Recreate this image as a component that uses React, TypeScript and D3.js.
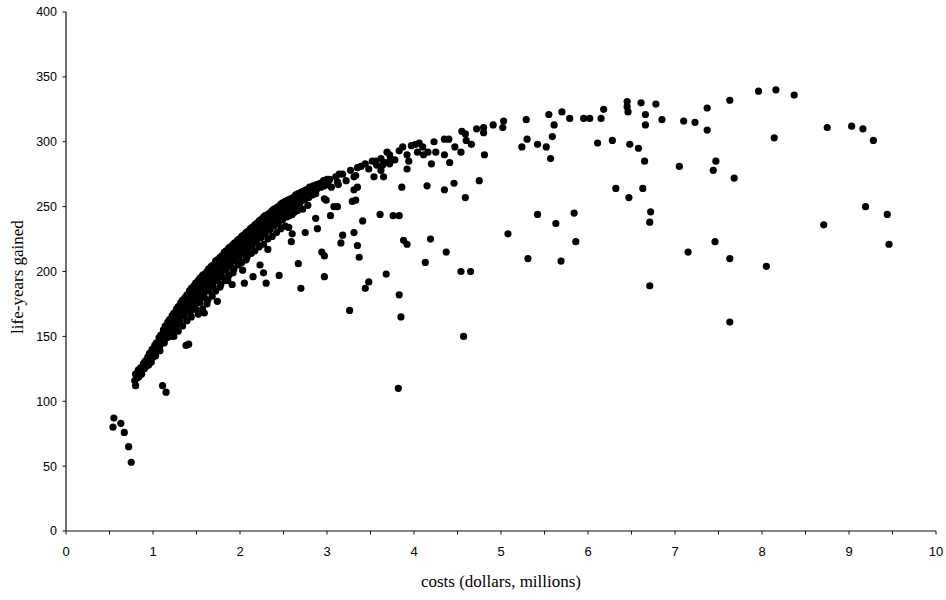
import React from 'react';
import * as d3 from 'd3';

// [cost in $ millions, life-years gained]
const lowCluster: [number, number][] = [
  [0.55, 87], [0.54, 80], [0.63, 83], [0.67, 76], [0.72, 65], [0.75, 53],
  [0.8, 112], [0.82, 118], [1.11, 112], [1.15, 107], [1.38, 143], [1.41, 144],
];

// the dense band up to ~$3M
const band: [number, number][] = [
  [0.8, 121], [0.79, 116], [0.83, 124], [0.84, 119], [0.86, 126], [0.87, 121], [0.89, 129],
  [0.9, 125], [0.91, 131], [0.92, 127], [0.94, 134], [0.95, 128], [0.96, 137], [0.97, 132],
  [0.99, 140], [1.0, 134], [0.98, 130], [1.02, 143], [1.03, 137], [1.04, 145], [1.05, 140],
  [1.03, 135], [1.07, 149], [1.08, 143], [1.09, 151], [1.1, 146], [1.08, 139], [1.12, 155],
  [1.13, 148], [1.14, 158], [1.15, 151], [1.13, 145], [1.17, 161], [1.18, 155], [1.16, 149],
  [1.19, 163], [1.2, 157], [1.21, 150], [1.22, 166], [1.23, 160], [1.21, 153], [1.24, 168],
  [1.25, 162], [1.26, 156], [1.24, 150], [1.27, 171], [1.28, 165], [1.26, 158], [1.29, 173],
  [1.3, 167], [1.31, 161], [1.29, 154], [1.32, 176], [1.33, 169], [1.31, 163], [1.34, 178],
  [1.35, 171], [1.36, 166], [1.34, 158], [1.37, 180], [1.38, 174], [1.36, 168], [1.39, 162],
  [1.39, 182], [1.4, 177], [1.41, 170], [1.42, 185], [1.43, 179], [1.41, 173], [1.44, 165],
  [1.44, 187], [1.45, 181], [1.46, 176], [1.43, 169], [1.47, 189], [1.48, 184], [1.46, 178],
  [1.49, 171], [1.49, 191], [1.5, 186], [1.51, 180], [1.48, 174], [1.52, 167], [1.52, 193],
  [1.53, 188], [1.51, 182], [1.54, 176], [1.54, 195], [1.55, 190], [1.56, 184], [1.53, 178],
  [1.57, 171], [1.57, 197], [1.58, 192], [1.56, 186], [1.59, 180], [1.59, 198], [1.6, 194],
  [1.61, 188], [1.58, 182], [1.62, 175], [1.62, 200], [1.63, 196], [1.61, 190], [1.64, 185],
  [1.63, 178], [1.64, 202], [1.65, 197], [1.66, 192], [1.63, 187], [1.67, 204], [1.68, 199],
  [1.66, 194], [1.69, 189], [1.68, 181], [1.69, 205], [1.7, 201], [1.71, 196], [1.68, 191],
  [1.72, 185], [1.72, 208], [1.73, 203], [1.71, 198], [1.74, 193], [1.74, 209], [1.75, 205],
  [1.76, 200], [1.73, 195], [1.77, 188], [1.77, 211], [1.78, 207], [1.76, 202], [1.79, 196],
  [1.78, 190], [1.79, 212], [1.8, 208], [1.81, 204], [1.78, 199], [1.82, 215], [1.83, 210],
  [1.81, 206], [1.84, 201], [1.83, 193], [1.84, 216], [1.85, 212], [1.86, 207], [1.83, 203],
  [1.87, 197], [1.87, 218], [1.88, 214], [1.86, 209], [1.89, 204], [1.89, 219], [1.9, 215],
  [1.91, 211], [1.88, 206], [1.92, 199], [1.92, 221], [1.93, 217], [1.91, 213], [1.94, 208],
  [1.93, 202], [1.94, 222], [1.95, 218], [1.96, 214], [1.93, 210], [1.97, 224], [1.98, 220],
  [1.96, 216], [1.99, 211], [1.98, 205], [1.99, 225], [2.0, 221], [2.01, 217], [1.98, 213],
  [2.02, 207], [2.02, 227], [2.03, 223], [2.01, 219], [2.04, 214], [2.04, 228], [2.05, 224],
  [2.06, 220], [2.03, 216], [2.07, 209], [2.07, 230], [2.08, 226], [2.06, 222], [2.09, 217],
  [2.08, 211], [2.09, 231], [2.1, 227], [2.11, 223], [2.08, 219], [2.12, 233], [2.13, 229],
  [2.11, 225], [2.14, 220], [2.13, 214], [2.14, 234], [2.15, 230], [2.16, 226], [2.13, 222],
  [2.17, 216], [2.17, 236], [2.18, 232], [2.16, 228], [2.19, 223], [2.19, 237], [2.2, 233],
  [2.21, 229], [2.18, 225], [2.22, 219], [2.22, 239], [2.23, 235], [2.21, 231], [2.24, 226],
  [2.24, 240], [2.25, 236], [2.26, 232], [2.23, 228], [2.27, 221], [2.27, 242], [2.28, 238],
  [2.26, 234], [2.29, 229], [2.29, 243], [2.3, 239], [2.31, 235], [2.28, 231], [2.32, 225],
  [2.32, 244], [2.33, 240], [2.31, 236], [2.34, 232], [2.34, 245], [2.35, 241], [2.36, 238],
  [2.33, 233], [2.37, 227], [2.37, 247], [2.38, 243], [2.36, 239], [2.39, 235], [2.39, 248],
  [2.4, 244], [2.41, 240], [2.38, 236], [2.42, 230], [2.42, 249], [2.43, 245], [2.41, 242],
  [2.44, 237], [2.44, 250], [2.45, 246], [2.46, 243], [2.43, 239], [2.47, 233], [2.47, 252],
  [2.48, 248], [2.46, 244], [2.49, 240], [2.49, 253], [2.5, 249], [2.51, 245], [2.48, 241],
  [2.52, 235], [2.52, 254], [2.53, 250], [2.51, 246], [2.54, 242], [2.55, 255], [2.56, 251],
  [2.54, 247], [2.57, 243], [2.58, 256], [2.59, 252], [2.57, 249], [2.6, 244], [2.61, 257],
  [2.62, 254], [2.6, 250], [2.63, 246], [2.64, 259], [2.65, 255], [2.63, 251], [2.66, 247],
  [2.67, 260], [2.68, 256], [2.66, 252], [2.7, 261], [2.71, 257], [2.69, 253], [2.72, 248],
  [2.73, 262], [2.74, 259], [2.72, 255], [2.76, 263], [2.77, 260], [2.75, 256], [2.78, 251],
  [2.8, 265], [2.81, 261], [2.79, 257], [2.84, 266], [2.85, 263], [2.83, 259], [2.88, 267],
  [2.89, 264], [2.87, 260], [2.92, 268], [2.93, 265], [2.96, 270], [2.97, 266], [3.0, 271],
  [3.01, 267], [3.03, 271], [3.05, 265], [3.1, 273], [3.13, 267], [3.18, 275], [3.22, 270],
  [3.27, 278], [3.31, 273], [3.35, 280], [3.39, 281], [3.44, 283], [3.48, 279], [3.52, 285],
  [3.57, 282], [3.62, 287], [3.67, 284], [3.72, 290], [3.78, 286], [3.83, 293], [3.87, 296],
  [3.92, 290], [3.97, 297], [4.02, 298], [4.06, 299], [4.1, 296], [4.16, 292], [4.23, 300],
  [4.25, 292], [4.35, 302], [4.4, 302], [4.47, 296], [4.55, 308], [4.59, 306], [4.6, 301],
  [4.66, 298], [4.72, 310], [4.8, 311], [4.8, 307], [4.91, 313], [5.02, 311], [5.03, 316],
];

const scattered: [number, number][] = [
  [1.59, 168], [1.74, 177], [1.86, 193], [1.91, 190], [2.03, 201], [2.05, 191], [2.09, 213],
  [2.15, 196], [2.23, 205], [2.27, 199], [2.3, 191], [2.32, 217], [2.45, 197], [2.56, 234],
  [2.59, 223], [2.6, 229], [2.67, 206], [2.7, 187], [2.75, 230], [2.87, 241], [2.89, 233],
  [2.93, 268], [2.94, 215], [2.97, 212], [2.97, 196], [2.97, 256], [2.99, 255], [3.0, 270],
  [3.04, 243], [3.08, 250], [3.12, 250], [3.12, 269], [3.14, 275], [3.16, 222], [3.18, 228],
  [3.26, 170], [3.29, 254], [3.31, 230], [3.31, 263], [3.33, 255], [3.33, 274], [3.35, 220],
  [3.35, 265], [3.37, 211], [3.41, 239], [3.44, 187], [3.48, 192], [3.54, 273], [3.56, 285],
  [3.61, 244], [3.62, 278], [3.64, 282], [3.65, 273], [3.68, 198], [3.69, 292], [3.72, 283],
  [3.73, 287], [3.76, 243], [3.82, 110], [3.83, 243], [3.83, 182], [3.85, 165], [3.86, 265],
  [3.88, 224], [3.92, 221], [3.92, 279], [3.94, 285], [4.04, 292], [4.11, 290], [4.13, 207],
  [4.15, 266], [4.19, 225], [4.2, 283], [4.35, 263], [4.35, 290], [4.37, 215], [4.41, 284],
  [4.46, 268], [4.54, 292], [4.54, 200], [4.57, 150], [4.59, 257], [4.65, 200], [4.75, 270],
  [4.81, 290],
];

const farPoints: [number, number][] = [
  [5.08, 229], [5.24, 296], [5.29, 317], [5.3, 302], [5.31, 210], [5.42, 298], [5.42, 244],
  [5.52, 296], [5.55, 321], [5.57, 287], [5.59, 304], [5.61, 313], [5.63, 237], [5.69, 208],
  [5.7, 323], [5.79, 318], [5.84, 245], [5.86, 223], [5.95, 318], [6.02, 318], [6.11, 299],
  [6.15, 318], [6.18, 325], [6.28, 301], [6.32, 264], [6.45, 331], [6.45, 327], [6.46, 323],
  [6.47, 257], [6.48, 298], [6.58, 295], [6.61, 330], [6.63, 264], [6.65, 285], [6.66, 321],
  [6.66, 313], [6.71, 238], [6.71, 189], [6.72, 246], [6.78, 329], [6.85, 317], [7.05, 281],
  [7.1, 316], [7.15, 215], [7.23, 315], [7.37, 326], [7.37, 309], [7.44, 278], [7.46, 223],
  [7.47, 285], [7.63, 332], [7.63, 210], [7.63, 161], [7.68, 272], [7.96, 339], [8.05, 204],
  [8.14, 303], [8.16, 340], [8.37, 336], [8.71, 236], [8.75, 311], [9.03, 312], [9.16, 310],
  [9.19, 250], [9.28, 301], [9.44, 244], [9.46, 221],
];

const xTicks = [0, 1, 2, 3, 4, 5, 6, 7, 8, 9, 10];
const yTicks = [0, 50, 100, 150, 200, 250, 300, 350, 400];

const W = 946;
const H = 600;

const App = () => {
  const svgRef = React.useRef<SVGSVGElement>(null);

  React.useEffect(() => {
    const svg = d3.select(svgRef.current);
    svg.selectAll('*').remove();

    const x = d3.scaleLinear().domain([0, 10]).range([66, 936]);
    const y = d3.scaleLinear().domain([0, 400]).range([531, 12]);

    // x axis, with minor ticks at the half units
    const xAxis = svg.append('g').attr('transform', `translate(0,${y(0)})`);
    xAxis.append('line')
      .attr('x1', x(0)).attr('x2', x(10))
      .attr('stroke', '#111').attr('stroke-width', 1.2);
    xAxis.selectAll('line.tick')
      .data(d3.range(0, 10.01, 0.5))
      .enter().append('line')
      .attr('x1', (d) => x(d)).attr('x2', (d) => x(d))
      .attr('y1', 0).attr('y2', 3.5)
      .attr('stroke', '#111');
    xAxis.selectAll('text')
      .data(xTicks)
      .enter().append('text')
      .attr('x', (d) => x(d))
      .attr('y', 25)
      .attr('text-anchor', 'middle')
      .style('font-family', 'Arial, "Liberation Sans", sans-serif')
      .style('font-size', '13px')
      .text((d) => d);

    // y axis
    const yAxis = svg.append('g').attr('transform', `translate(${x(0)},0)`);
    yAxis.append('line')
      .attr('y1', y(0)).attr('y2', y(400))
      .attr('stroke', '#111').attr('stroke-width', 1.2);
    yAxis.selectAll('line.tick')
      .data(yTicks)
      .enter().append('line')
      .attr('x1', -3.5).attr('x2', 0)
      .attr('y1', (d) => y(d)).attr('y2', (d) => y(d))
      .attr('stroke', '#111');
    yAxis.selectAll('text')
      .data(yTicks)
      .enter().append('text')
      .attr('x', -9)
      .attr('y', (d) => y(d))
      .attr('dy', '0.35em')
      .attr('text-anchor', 'end')
      .style('font-family', 'Arial, "Liberation Sans", sans-serif')
      .style('font-size', '12.5px')
      .text((d) => d);

    // dots
    const all = [...lowCluster, ...band, ...scattered, ...farPoints];
    svg.append('g')
      .selectAll('circle')
      .data(all)
      .enter().append('circle')
      .attr('cx', (d) => x(d[0]))
      .attr('cy', (d) => y(d[1]))
      .attr('r', 3.6)
      .attr('fill', '#000');

    // axis titles
    svg.append('text')
      .attr('x', 501)
      .attr('y', 587)
      .attr('text-anchor', 'middle')
      .style('font-family', '"Liberation Serif", "Times New Roman", serif')
      .style('font-size', '17px')
      .text('costs (dollars, millions)');

    svg.append('clipPath').attr('id', 'ytitle-clip')
      .append('rect').attr('x', 0).attr('y', 214).attr('width', 40).attr('height', 200);

    svg.append('g').attr('clip-path', 'url(#ytitle-clip)')
      .append('text')
      .attr('transform', 'translate(23,277) rotate(-90)')
      .attr('text-anchor', 'middle')
      .style('font-family', '"Liberation Serif", "Times New Roman", serif')
      .style('font-size', '17px')
      .text('life-years gained');
  }, []);

  return (
    <svg
      ref={svgRef}
      width={W}
      height={H}
      style={{ position: 'absolute', left: 0, top: 0, background: '#fff' }}
    />
  );
};

export default App;
